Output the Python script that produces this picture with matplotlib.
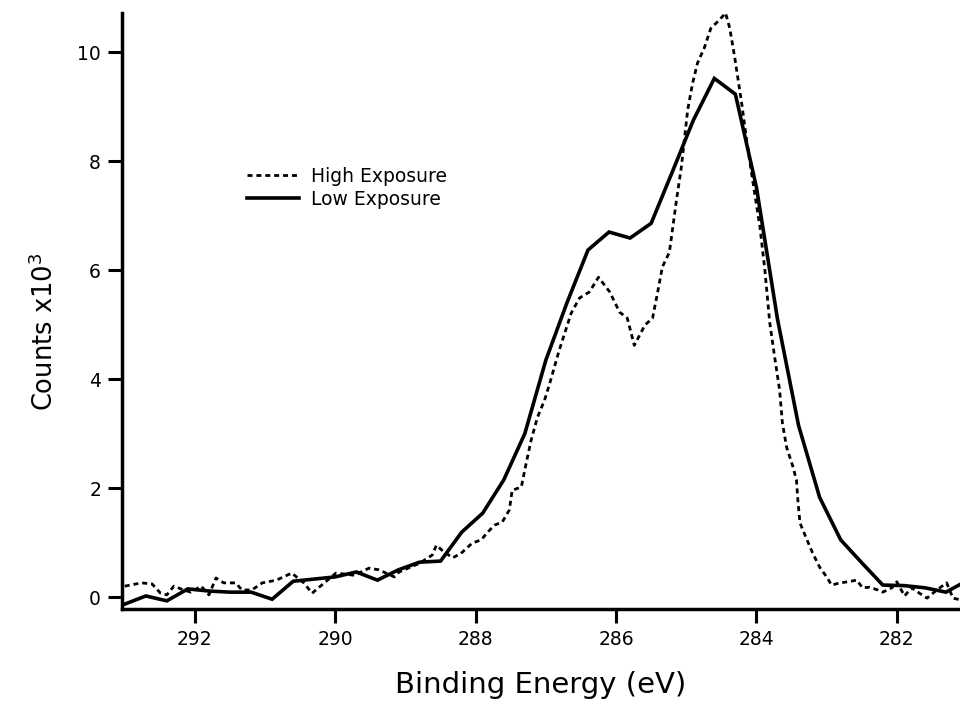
import matplotlib.pyplot as plt

# binding energy (eV) and counts (x10^3)
low_energy = [293.0, 292.7, 292.4, 292.1, 291.8, 291.5, 291.2, 290.9, 290.6, 290.3,
              290.0, 289.7, 289.4, 289.1, 288.8, 288.5, 288.2, 287.9, 287.6, 287.3,
              287.0, 286.7, 286.4, 286.1, 285.8, 285.5, 285.2, 284.9, 284.6, 284.3,
              284.0, 283.7, 283.4, 283.1, 282.8, 282.5, 282.2, 281.9, 281.6, 281.3,
              281.0]
low_counts = [-0.13, 0.02, -0.07, 0.15, 0.11, 0.09, 0.09, -0.04, 0.29, 0.33,
              0.37, 0.46, 0.31, 0.50, 0.64, 0.66, 1.19, 1.54, 2.15, 3.00,
              4.35, 5.40, 6.37, 6.70, 6.59, 6.86, 7.80, 8.75, 9.52, 9.23,
              7.52, 5.10, 3.15, 1.83, 1.05, 0.63, 0.22, 0.21, 0.17, 0.09,
              0.30]

high_energy = [293.0, 292.76, 292.61, 292.49, 292.40, 292.30, 292.16, 292.06, 291.91, 291.80,
               291.70, 291.59, 291.42, 291.33, 291.19, 291.04, 290.84, 290.62, 290.45, 290.33,
               290.23, 289.99, 289.73, 289.52, 289.38, 289.16, 289.09, 288.80, 288.62, 288.56,
               288.48, 288.33, 288.21, 288.05, 287.92, 287.83, 287.73, 287.62, 287.52, 287.48,
               287.35, 287.28, 287.21, 287.12, 287.02, 286.95, 286.81, 286.64, 286.52, 286.38,
               286.25, 286.09, 285.95, 285.84, 285.74, 285.59, 285.48, 285.41, 285.34, 285.24,
               285.14, 285.07, 284.98, 284.91, 284.84, 284.74, 284.65, 284.53, 284.44, 284.38,
               284.31, 284.21, 284.14, 284.07, 283.95, 283.88, 283.81, 283.74, 283.67, 283.63,
               283.57, 283.48, 283.43, 283.41, 283.38, 283.28, 283.20, 283.10, 283.00, 282.93,
               282.81, 282.70, 282.57, 282.49, 282.39, 282.27, 282.20, 282.07, 282.00, 281.89,
               281.79, 281.70, 281.57, 281.43, 281.29, 281.20, 281.10]
high_counts = [0.20, 0.26, 0.24, 0.07, 0.04, 0.20, 0.13, 0.09, 0.20, 0.04,
               0.35, 0.26, 0.26, 0.13, 0.13, 0.26, 0.31, 0.44, 0.26, 0.07,
               0.18, 0.44, 0.40, 0.53, 0.50, 0.37, 0.46, 0.62, 0.77, 0.95,
               0.86, 0.72, 0.80, 0.99, 1.05, 1.19, 1.32, 1.38, 1.60, 1.96,
               2.02, 2.46, 2.88, 3.30, 3.61, 3.90, 4.53, 5.21, 5.49, 5.60,
               5.87, 5.60, 5.23, 5.12, 4.62, 4.99, 5.12, 5.58, 6.06, 6.33,
               7.28, 7.89, 8.94, 9.43, 9.80, 10.09, 10.44, 10.59, 10.72, 10.44,
               9.91, 9.06, 8.39, 7.78, 6.79, 6.00, 5.03, 4.40, 3.80, 3.19,
               2.75, 2.39, 2.15, 1.78, 1.36, 1.05, 0.81, 0.55, 0.37, 0.22,
               0.26, 0.28, 0.31, 0.17, 0.18, 0.13, 0.09, 0.17, 0.28, 0.02,
               0.17, 0.09, -0.02, 0.13, 0.26, -0.02, -0.05]

x_ticks = [292, 290, 288, 286, 284, 282]
y_ticks = [0, 2, 4, 6, 8, 10]

plt.rcParams['font.family'] = ['DejaVu Sans']

fig = plt.figure(figsize=(9.6, 7.16), dpi=100)
ax = fig.add_axes([0.127, 0.1494, 0.873, 0.8324])

ax.plot(high_energy, high_counts, color='black', lw=2.0, linestyle=(0, (1.8, 1.4)),
        label='High Exposure', clip_on=False)
ax.plot(low_energy, low_counts, color='black', lw=2.6, label='Low Exposure',
        solid_joinstyle='miter', clip_on=False)

ax.set_xlim(293.04, 281.1)
ax.set_ylim(-0.22, 10.72)
ax.set_xticks(x_ticks)
ax.set_yticks(y_ticks)

for side in ['top', 'right']:
    ax.spines[side].set_visible(False)
for side in ['left', 'bottom']:
    ax.spines[side].set_linewidth(2.5)
ax.tick_params(direction='out', length=10, width=2.2, labelsize=13.5, pad=5)

ax.set_xlabel('Binding Energy (eV)', fontsize=21, labelpad=16)
ax.set_ylabel('Counts x10$^3$', fontsize=18.5)
ax.yaxis.set_label_coords(-0.075, 0.465)

ax.legend(loc='upper left', bbox_to_anchor=(0.149, 0.742), frameon=False,
          fontsize=13.5, handlelength=2.8, handletextpad=0.6,
          borderpad=0, borderaxespad=0, labelspacing=0.2)

fig.savefig('out.png', dpi=100)
